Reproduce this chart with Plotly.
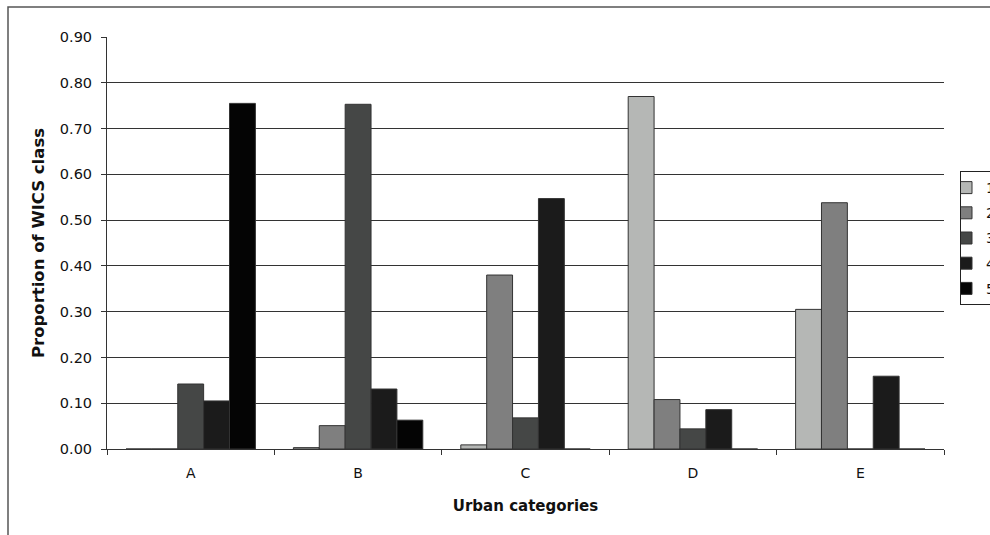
import plotly.graph_objects as go

categories = ["A", "B", "C", "D", "E"]
series_names = ["1", "2", "3", "4", "5"]
s1 = [0.0, 0.003, 0.009, 0.770, 0.305]
s2 = [0.0, 0.051, 0.380, 0.108, 0.538]
s3 = [0.142, 0.753, 0.068, 0.044, 0.0]
s4 = [0.105, 0.131, 0.547, 0.086, 0.159]
s5 = [0.755, 0.063, 0.0, 0.0, 0.0]
y_ticks = [0.0, 0.1, 0.2, 0.3, 0.4, 0.5, 0.6, 0.7, 0.8, 0.9]
y_tick_labels = ["0.00", "0.10", "0.20", "0.30", "0.40", "0.50", "0.60", "0.70", "0.80", "0.90"]

colors = ["#b5b7b5", "#7f7f7f", "#454746", "#1b1b1b", "#040404"]
values = [s1, s2, s3, s4, s5]

FONT = "DejaVu Sans, Verdana, sans-serif"

fig = go.Figure()
for name, vals, col in zip(series_names, values, colors):
    fig.add_trace(go.Bar(
        x=categories, y=vals, name=name, legendgroup=name,
        marker=dict(color=col, line=dict(color="#333333", width=1)),
    ))

W, H = 990, 535
ml, mr, mt, mb = 107, 46, 37, 86
pw, ph = W - ml - mr, H - mt - mb

def px_x(p):
    return (p - ml) / pw

def px_y(p):
    return (H - mb - p) / ph

fig.update_layout(
    width=W, height=H,
    margin=dict(l=ml, r=mr, t=mt, b=mb, autoexpand=False),
    paper_bgcolor="white", plot_bgcolor="white",
    barmode="group", bargap=0.227, bargroupgap=0,
    font=dict(family=FONT, size=14, color="#111111"),
    showlegend=True,
    legend=dict(
        x=px_x(960), y=px_y(171), xanchor="left", yanchor="top",
        bordercolor="#222222", borderwidth=1, bgcolor="white",
        font=dict(family=FONT, size=14, color="#111111"),
        tracegroupgap=4, indentation=-15,
    ),
    xaxis=dict(
        type="category", showline=True, linecolor="#333333", linewidth=1,
        ticks="outside", ticklen=5, tickcolor="#333333", tickson="boundaries",
        showgrid=False, ticklabelstandoff=11,
        tickfont=dict(family=FONT, size=14, color="#111111"),
        title=dict(text="<b>Urban categories</b>", standoff=20,
                   font=dict(family=FONT, size=15, color="#111111")),
    ),
    yaxis=dict(
        range=[0, 0.9], tickvals=y_ticks, ticktext=y_tick_labels,
        showline=True, linecolor="#333333", linewidth=1,
        ticks="outside", ticklen=5, tickcolor="#333333",
        showgrid=True, gridcolor="#333333", gridwidth=1.3,
        zeroline=False, ticklabelstandoff=6,
        tickfont=dict(family=FONT, size=14.5, color="#111111"),
        title=dict(text="<b>Proportion of WICS class</b>", standoff=11,
                   font=dict(family=FONT, size=16.5, color="#111111")),
    ),
)

# outer chart border (clipped by the page on the right and bottom)
fig.add_shape(type="rect", xref="paper", yref="paper",
              x0=px_x(8), x1=px_x(1200), y0=px_y(700), y1=px_y(7),
              line=dict(color="#555555", width=1.5), fillcolor="rgba(0,0,0,0)",
              layer="above")

fig.write_html("out.html", config={"displayModeBar": False},
               post_script="document.body.style.margin='0';document.body.style.overflow='hidden';")
